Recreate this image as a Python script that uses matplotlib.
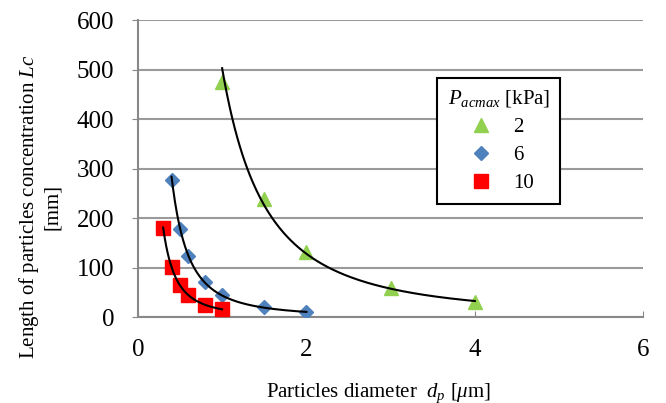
import numpy as np
import matplotlib
matplotlib.use("Agg")
import matplotlib.pyplot as plt

plt.rcParams['font.family'] = ['Liberation Serif', 'DejaVu Serif']
plt.rcParams['mathtext.fontset'] = 'custom'
plt.rcParams['mathtext.rm'] = 'Liberation Serif'
plt.rcParams['mathtext.it'] = 'Liberation Serif:italic'

# data (d_p in um, Lc in mm)
d_2kPa = [1.0, 1.5, 2.0, 3.0, 4.0]
lc_2kPa = [475, 238, 132, 59, 31]
d_6kPa = [0.4, 0.5, 0.6, 0.8, 1.0, 1.5, 2.0]
lc_6kPa = [278, 178, 123, 71, 45, 20, 10]
d_10kPa = [0.3, 0.4, 0.5, 0.6, 0.8, 1.0]
lc_10kPa = [180, 101, 65, 45, 24, 16]

x_ticks = [0, 2, 4, 6]
y_ticks = [0, 100, 200, 300, 400, 500, 600]

fig = plt.figure(figsize=(6.66, 4.03), dpi=100)
ax = fig.add_axes([0.207, 0.213, 0.759, 0.737])

series = [
    (d_2kPa, lc_2kPa, '^', '#92D050', 10.5, '2'),
    (d_6kPa, lc_6kPa, 'D', '#4F81BD', 7.5, '6'),
    (d_10kPa, lc_10kPa, 's', '#FF0000', 10, '10'),
]

for xs, ys, mk, col, ms, lab in series:
    xs = np.asarray(xs)
    ys = np.asarray(ys)
    ax.plot(xs, ys, linestyle='none', marker=mk, color=col,
            markersize=ms, label=lab, zorder=3)
    # power-law trendline, fitted in log space like Excel
    b, lna = np.polyfit(np.log(xs), np.log(ys), 1)
    xf = np.linspace(xs.min(), xs.max(), 200)
    ax.plot(xf, np.exp(lna)*xf**b, color='black', lw=1.5, zorder=4)

ax.set_xlim(0, 6)
ax.set_ylim(0, 600)
ax.set_xticks(x_ticks)
ax.set_yticks(y_ticks)
ax.tick_params(axis='both', labelsize=18, color='#888888')
ax.tick_params(axis='y', direction='out', length=4, pad=13)
ax.tick_params(axis='x', direction='in', length=4, pad=16)

ax.grid(axis='y', color='#9a9a9a', lw=1.5)
ax.set_axisbelow(True)
for s in ['top', 'right']:
    ax.spines[s].set_visible(False)
for s in ['left', 'bottom']:
    ax.spines[s].set_color('#888888')
    ax.spines[s].set_linewidth(1.5)

ax.set_xlabel(r'Particles diameter  $d_p$ [$\mu$m]', fontsize=15)
ax.xaxis.set_label_coords(0.477, -0.215)
ax.set_ylabel('Length of particles concentration $Lc$\n[mm]', fontsize=15,
              linespacing=1.15)
ax.yaxis.set_label_coords(-0.150, 0.37)

leg = ax.legend(title=r'$P_{acmax}$ [kPa]', fontsize=15, title_fontsize=15,
                loc='upper left', bbox_to_anchor=(0.592, 0.805),
                borderaxespad=0,
                fancybox=False, edgecolor='black', framealpha=1,
                handletextpad=0.7, borderpad=0.5, labelspacing=0.4,
                handlelength=1.7)
leg.get_frame().set_linewidth(1.5)

fig.savefig('out.png', dpi=100)
